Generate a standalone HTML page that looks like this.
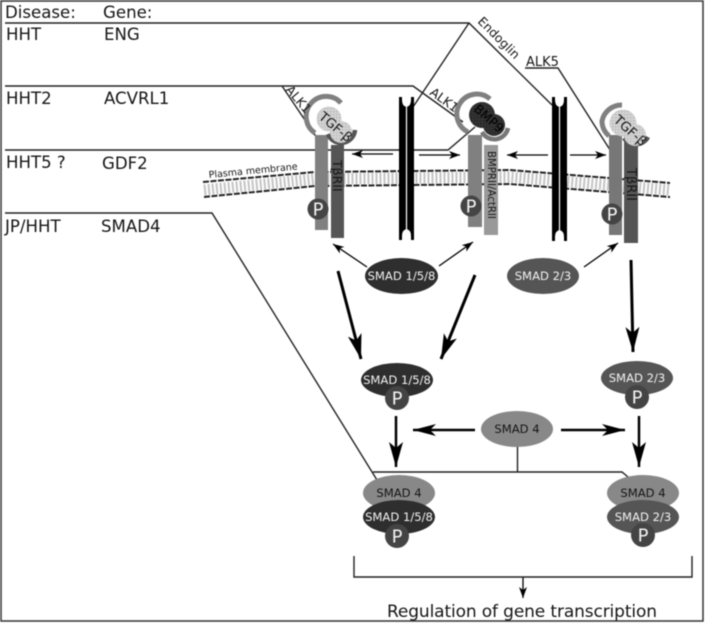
<!DOCTYPE html>
<html><head><meta charset="utf-8"><style>
html,body{margin:0;padding:0;background:#fff;width:705px;height:623px;overflow:hidden}
svg{display:block;filter:blur(.4px)}
text{font-family:"DejaVu Sans","Liberation Sans",sans-serif;fill:#151515}
.h{font-size:16.6px}
.s{font-size:11.6px;text-anchor:middle}
text.w{fill:#f2f2f2}
text.p{font-size:18px;text-anchor:middle;fill:#f2f2f2}
.l{fill:none;stroke:#222;stroke-width:1.4}
</style></head><body>
<svg width="705" height="623" viewBox="0 0 705 623" xmlns="http://www.w3.org/2000/svg">
<defs>
<marker id="thick" markerWidth="26" markerHeight="16" refX="25" refY="8" orient="auto" markerUnits="userSpaceOnUse"><path d="M0 1L25 8L0 15L6 8Z" fill="#000"/></marker>
<marker id="mid" markerWidth="24" markerHeight="14" refX="23" refY="7" orient="auto" markerUnits="userSpaceOnUse"><path d="M0 1L23 7L0 13L6 7Z" fill="#000"/></marker>
<marker id="thin" markerWidth="12" markerHeight="9" refX="11" refY="4.500" orient="auto" markerUnits="userSpaceOnUse"><path d="M0 0.500L11 4.500L0 8.500L3 4.500Z" fill="#000"/></marker>
<pattern id="tex" width="3" height="3" patternUnits="userSpaceOnUse"><rect width="3" height="3" fill="#cfcfcf"/><rect width="1.500" height="1.500" fill="#bdbdbd"/><rect x="1.500" y="1.500" width="1" height="1" fill="#e2e2e2"/></pattern>
<pattern id="dark" width="3" height="3" patternUnits="userSpaceOnUse"><rect width="3" height="3" fill="#333"/><rect width="1.500" height="1.500" fill="#222"/></pattern>
</defs>
<rect width="705" height="623" fill="#fff"/>
<rect x="1" y="1" width="702" height="620" fill="none" stroke="#333" stroke-width="1.500"/>

<!-- membrane -->
<path d="M204 190L315 179L510 177L670 190" fill="none" stroke="#c4c4c4" stroke-width="11" stroke-dasharray="2 2"/>
<path d="M203 182L315 172L510 170L670 183" fill="none" stroke="#222" stroke-width="2" stroke-dasharray="6 1.500"/>
<path d="M204 197L315 186L510 184L670 197" fill="none" stroke="#222" stroke-width="2" stroke-dasharray="6 1.500"/>
<text transform="translate(209,178) rotate(-5.500)" font-size="9.500">Plasma membrane</text>

<!-- lines -->
<path class="l" d="M5 23H469L552 105M469 23L411 110"/>
<path class="l" d="M5 86H413L463 122M282 86L317 138"/>
<path class="l" d="M5 150H448L475 127"/>
<path class="l" d="M5 213H212L377 480"/>
<path class="l" d="M373 472H622L628 477M517.500 446V472"/>
<path class="l" d="M525 68H558L612 153"/>

<!-- pillars -->
<g fill="#000">
<path d="M399 97H402V100Q402 106 406.500 107Q411 106 411 100V97H414V240H411V236Q411 230 406.500 229Q402 230 402 236V240H399Z"/>
<path d="M552 97H555V100Q555 106 559.500 107Q564 106 564 100V97H567V241H564V237Q564 231 559.500 230Q555 231 555 237V241H552Z"/>
</g>
<path d="M406.500 106V230M559.500 106V231" stroke="#fff" stroke-width="1.200"/>

<!-- arrows -->
<g stroke="#000" stroke-width="1.300" fill="none">
<path d="M393 154H352" marker-end="url(#thin)"/><path d="M419 155H460" marker-end="url(#thin)"/>
<path d="M548 155H507" marker-end="url(#thin)"/><path d="M570 155H606" marker-end="url(#thin)"/>
<path d="M367 267L333 244" marker-end="url(#thin)"/><path d="M439 266L473 242" marker-end="url(#thin)"/><path d="M584 267L618 243" marker-end="url(#thin)"/>
<path d="M523 577V598" marker-end="url(#thin)"/>
</g>
<g stroke="#000" stroke-width="3" fill="none">
<path d="M338 271L361 359" marker-end="url(#thick)"/><path d="M475 275L441 359" marker-end="url(#thick)"/><path d="M631 260L633 352" marker-end="url(#thick)"/>
</g>
<g stroke="#000" stroke-width="2.500" fill="none">
<path d="M396 416V467" marker-end="url(#thick)"/><path d="M639 416V467" marker-end="url(#thick)"/>
<path d="M475 430H413" marker-end="url(#mid)"/><path d="M561 430H625" marker-end="url(#mid)"/>
</g>

<!-- left receptor -->
<rect x="315" y="135" width="13" height="95" fill="#808080"/>
<rect x="331" y="145" width="13" height="93" fill="#555"/>
<path d="M341 103A20 20 0 1 0 315 133" fill="none" stroke="#808080" stroke-width="5"/>
<path d="M328 134A14 14 0 0 0 355 130" fill="none" stroke="#555" stroke-width="4.500"/>
<circle cx="329" cy="119" r="12.500" fill="url(#tex)"/><circle cx="341" cy="132" r="11" fill="url(#tex)"/>
<circle cx="318" cy="209" r="10.500" fill="#444"/>
<text class="p" x="318" y="215.500">P</text>
<text transform="translate(285,90) rotate(50)" font-size="12.500">ALK1</text>
<text transform="translate(318,118) rotate(40)" font-size="13">TGF-β</text>
<text transform="translate(333,160) rotate(90)" font-size="12.500">TβRII</text>

<!-- middle receptor -->
<rect x="468" y="135" width="14" height="92" fill="#808080"/>
<rect x="484" y="145" width="14" height="90" fill="#999"/>
<path d="M490 99A20 20 0 1 0 468 132" fill="none" stroke="#808080" stroke-width="5"/>
<path d="M482 132A14 14 0 0 0 508 128" fill="none" stroke="#777" stroke-width="4.500"/>
<circle cx="482" cy="115" r="13" fill="url(#dark)"/><circle cx="494" cy="125" r="11" fill="url(#dark)"/>
<circle cx="471" cy="206" r="10.500" fill="#444"/>
<text class="p" x="471" y="212.500">P</text>
<text transform="translate(429,94) rotate(36)" font-size="12.500">ALK1</text>
<text transform="translate(473,110) rotate(42)" font-size="12.500" style="fill:#000">BMP9</text>
<text transform="translate(488,151) rotate(90)" font-size="10.200">BMPRII/ActRII</text>

<!-- right receptor -->
<rect x="609" y="135" width="13" height="100" fill="#777"/>
<rect x="624" y="136" width="14" height="107" fill="#555"/>
<path d="M622 105A20 20 0 0 0 602 121A20 20 0 0 0 609 136" fill="none" stroke="#808080" stroke-width="5"/>
<path d="M624 138A14 14 0 0 0 648 137" fill="none" stroke="#555" stroke-width="4.500"/>
<circle cx="623" cy="123" r="13.500" fill="url(#tex)"/><circle cx="635" cy="135" r="11" fill="url(#tex)"/>
<circle cx="612" cy="214" r="10.500" fill="#444"/>
<text class="p" x="612" y="220.500">P</text>
<text transform="translate(613,121) rotate(42)" font-size="13">TGF-β</text>
<text transform="translate(627,168) rotate(90)" font-size="13">TβRII</text>
<text x="526" y="66" font-size="13">ALK5</text>
<text transform="translate(477,22) rotate(45)" font-size="12.300">Endoglin</text>

<!-- SMADs -->
<ellipse cx="401.500" cy="276" rx="36.500" ry="18" fill="#2e2e2e"/><text class="s w" x="401.500" y="280">SMAD 1/5/8</text>
<ellipse cx="543" cy="276" rx="36" ry="18" fill="#555"/><text class="s w" x="543" y="280">SMAD 2/3</text>

<ellipse cx="397" cy="380" rx="36" ry="17" fill="#2e2e2e"/><text class="s w" x="397" y="384">SMAD 1/5/8</text>
<circle cx="397" cy="398" r="12" fill="#444"/><text class="p" x="397" y="404.500">P</text>
<ellipse cx="637" cy="378" rx="36" ry="17" fill="#555"/><text class="s w" x="637" y="382">SMAD 2/3</text>
<circle cx="637" cy="397" r="12" fill="#444"/><text class="p" x="637" y="403.500">P</text>
<ellipse cx="517" cy="429" rx="36" ry="18" fill="#888"/><text class="s" x="517" y="433">SMAD 4</text>

<ellipse cx="399" cy="493" rx="36" ry="18" fill="#888"/><text class="s" x="399" y="497">SMAD 4</text>
<ellipse cx="399" cy="517" rx="36" ry="17" fill="#2e2e2e"/><text class="s w" x="399" y="521">SMAD 1/5/8</text>
<circle cx="397" cy="536" r="12" fill="#444"/><text class="p" x="397" y="542.500">P</text>
<ellipse cx="643" cy="493" rx="36" ry="18" fill="#888"/><text class="s" x="643" y="497">SMAD 4</text>
<ellipse cx="643" cy="517" rx="36" ry="17" fill="#555"/><text class="s w" x="643" y="521">SMAD 2/3</text>
<circle cx="643" cy="535" r="12" fill="#444"/><text class="p" x="643" y="541.500">P</text>

<path class="l" d="M354 556V577H692V556"/>
<text x="387" y="617" font-size="17" textLength="270">Regulation of gene transcription</text>

<!-- left table -->
<text class="h" x="5" y="18">Disease:</text><text class="h" x="103" y="18">Gene:</text>
<text class="h" x="6" y="40">HHT</text><text class="h" x="104" y="40">ENG</text>
<text class="h" x="6" y="104">HHT2</text><text class="h" x="104" y="104">ACVRL1</text>
<text class="h" x="6" y="168">HHT5 ?</text><text class="h" x="102" y="169">GDF2</text>
<text class="h" x="5" y="232">JP/HHT</text><text class="h" x="101" y="232">SMAD4</text>
</svg>
</body></html>
